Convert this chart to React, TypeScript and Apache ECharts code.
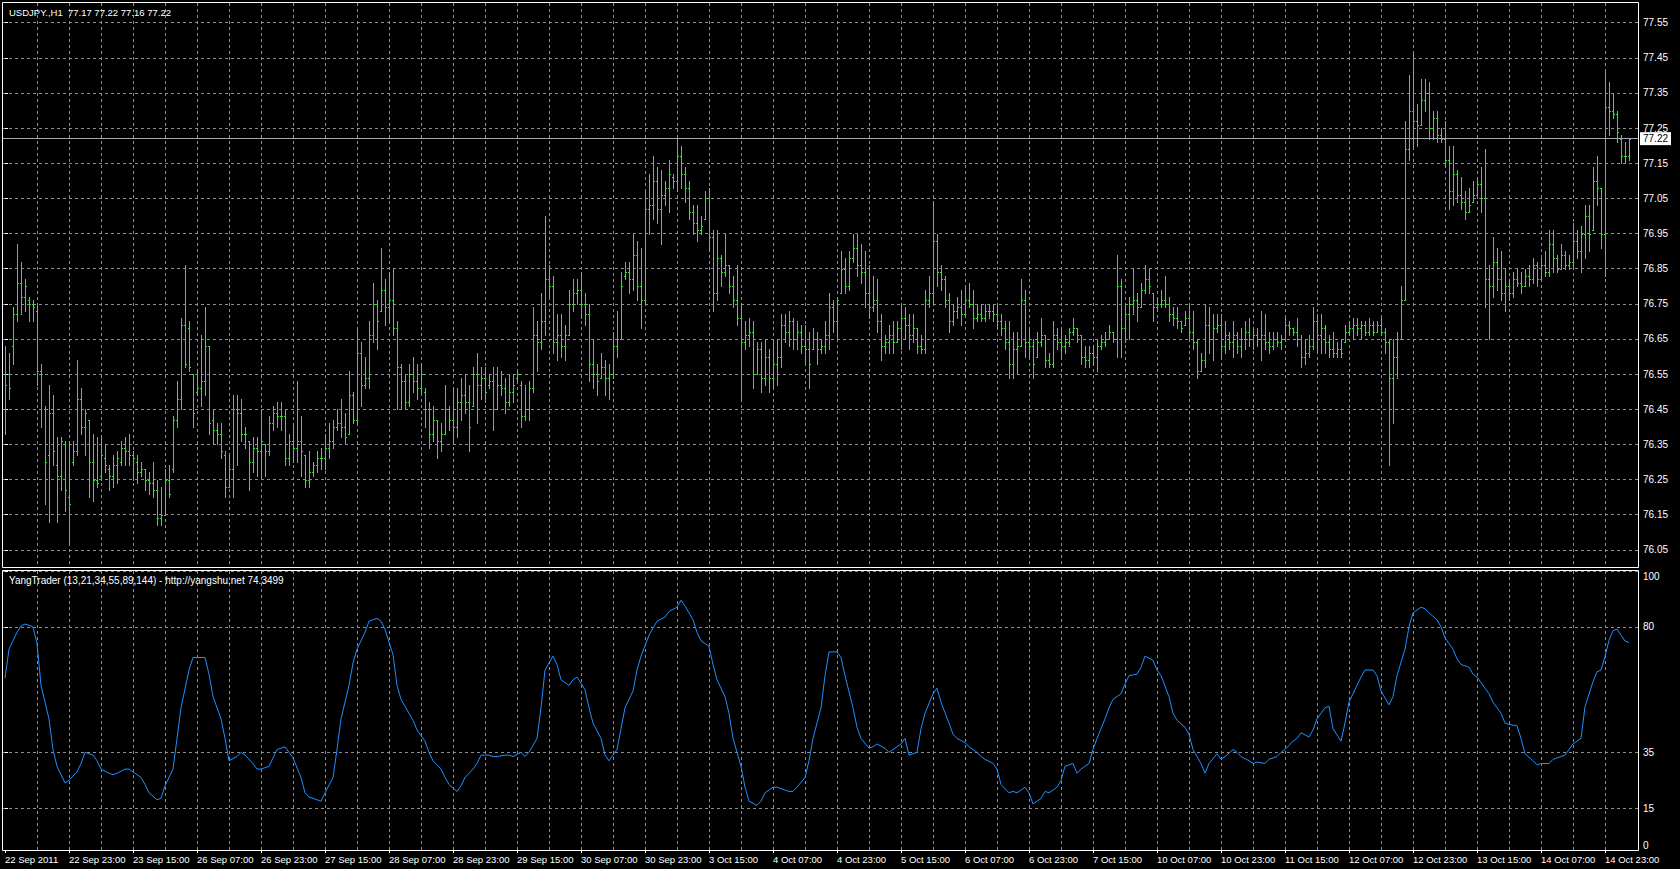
import { useEffect, useRef } from 'react';
import * as echarts from 'echarts';

// ---------- text ----------
const SYMBOL_TITLE = 'USDJPY.,H1  77.17 77.22 77.16 77.22';
const INDICATOR_TITLE = 'YangTrader (13,21,34,55,89,144) - http://yangshu.net 74.3499';

// time labels shown every 16 hourly bars (bar 0, 16, 32, ...)
const TIME_LABELS = [
  '22 Sep 2011', '22 Sep 23:00', '23 Sep 15:00', '26 Sep 07:00', '26 Sep 23:00', '27 Sep 15:00',
  '28 Sep 07:00', '28 Sep 23:00', '29 Sep 15:00', '30 Sep 07:00', '30 Sep 23:00', '3 Oct 15:00',
  '4 Oct 07:00', '4 Oct 23:00', '5 Oct 15:00', '6 Oct 07:00', '6 Oct 23:00', '7 Oct 15:00',
  '10 Oct 07:00', '10 Oct 23:00', '11 Oct 15:00', '12 Oct 07:00', '12 Oct 23:00', '13 Oct 15:00',
  '14 Oct 07:00', '14 Oct 23:00',
];
const LABEL_STEP = 16;
const GRID_STEP = 8;

const PRICE_TICKS = [76.05, 76.15, 76.25, 76.35, 76.45, 76.55, 76.65, 76.75, 76.85, 76.95, 77.05, 77.15, 77.25, 77.35, 77.45, 77.55];
const IND_TICKS = [0, 15, 35, 80, 100];
const BID = 77.22;

// ---------- OHLC (hourly bars) ----------
const OPEN = [
  76.45,76.55,76.63,76.72,76.81,76.77,76.76,76.75,76.73,76.56,
  76.45,76.32,76.44,76.29,76.26,76.35,76.20,76.30,76.33,76.48,
  76.40,76.42,76.30,76.25,76.26,76.31,76.28,76.26,76.29,76.30,
  76.34,76.33,76.32,76.30,76.27,76.28,76.25,76.24,76.22,76.14,
  76.15,76.25,76.28,76.42,76.48,76.69,76.68,76.55,76.50,76.51,
  76.53,76.63,76.42,76.39,76.38,76.32,76.23,76.28,76.45,76.44,
  76.38,76.36,76.30,76.34,76.33,76.35,76.33,76.41,76.44,76.43,
  76.43,76.31,76.36,76.34,76.36,76.32,76.25,76.27,76.29,76.31,
  76.31,76.34,
  76.36,76.40,76.41,76.40,76.38,76.49,76.42,76.61,76.52,76.54,
  76.66,76.75,76.73,76.79,76.74,76.76,76.68,76.57,76.53,76.47,
  76.55,76.53,76.51,76.50,76.45,76.38,76.42,76.36,76.38,76.45,
  76.42,76.40,76.47,76.49,76.47,76.46,76.55,76.52,76.54,76.52,
  76.53,76.45,76.52,76.51,76.47,76.50,76.54,76.52,76.43,76.45,
  76.51,76.66,76.64,76.70,76.82,76.80,76.64,76.66,76.63,76.66,
  76.75,76.78,76.79,76.75,76.72,76.58,76.55,76.54,76.57,76.54,
  76.55,76.63,76.65,76.83,76.84,76.82,76.89,76.80,76.76,77.02,
  77.03,77.10,
  77.02,77.06,77.08,77.11,77.10,77.17,77.12,77.08,77.01,76.98,
  76.96,76.99,77.05,76.94,76.78,76.88,76.84,76.86,76.80,76.76,
  76.71,76.64,76.66,76.67,76.55,76.62,76.54,76.60,76.54,76.58,
  76.60,76.69,76.67,76.70,76.65,76.67,76.63,76.62,76.62,76.65,
  76.62,76.63,76.66,76.74,76.70,76.78,76.85,76.80,76.88,76.91,
  76.86,76.84,76.78,76.74,76.76,76.70,76.63,76.64,76.66,76.64,
  76.68,76.71,76.69,76.66,76.68,76.63,76.62,76.76,76.78,76.93,
  76.84,76.82,76.76,76.70,76.73,76.74,76.72,76.76,76.75,76.71,
  76.72,76.71,
  76.73,76.73,76.72,76.70,76.68,76.64,76.58,76.62,76.63,76.76,
  76.64,76.63,76.60,76.64,76.66,76.59,76.58,76.66,76.64,76.63,
  76.64,76.67,76.68,76.66,76.60,76.59,76.61,76.60,76.63,76.64,
  76.65,76.67,76.65,76.80,76.68,76.72,76.75,76.76,76.74,76.79,
  76.82,76.78,76.74,76.75,76.76,76.75,76.72,76.71,76.70,76.69,
  76.71,76.67,76.64,76.56,76.59,76.69,76.65,76.68,76.69,76.63,
  76.66,76.64,76.66,76.63,76.65,76.67,76.65,76.66,76.65,76.66,
  76.64,76.63,76.65,76.64,76.65,76.69,76.68,76.67,76.65,76.60,
  76.61,76.63,76.70,76.66,76.68,76.64,76.62,76.61,76.62,76.64,
  76.67,76.68,76.69,76.68,76.69,76.67,76.69,76.67,76.69,76.67,
  76.64,76.54,76.60,76.65,76.76,77.19,77.30,77.27,77.26,77.33,
  77.35,77.25,77.28,77.23,77.22,77.16,77.07,77.12,77.06,77.04,
  77.01,77.04,77.06,77.09,77.05,76.82,76.80,76.87,76.82,76.78,
  76.80,76.78,76.82,76.81,76.80,76.83,76.82,76.86,76.82,76.86,
  76.84,76.92,76.88,76.85,76.89,76.86,76.87,76.93,76.90,76.95,
  77.00,76.96,77.10,77.08,76.95,77.31,77.30,77.29,77.22,77.17,77.17,
];
const HIGH = [
  76.63,76.61,76.74,76.92,76.87,76.82,76.77,76.76,76.75,76.58,
  76.46,76.52,76.49,76.37,76.37,76.36,76.36,76.36,76.59,76.51,
  76.45,76.42,76.38,76.37,76.37,76.35,76.29,76.32,76.33,76.36,
  76.37,76.38,76.33,76.32,76.30,76.28,76.27,76.30,76.25,76.23,
  76.28,76.29,76.43,76.53,76.71,76.86,76.70,76.55,76.56,76.66,
  76.74,76.63,76.45,76.41,76.41,76.33,76.32,76.49,76.49,76.48,
  76.40,76.36,76.37,76.37,76.45,76.35,76.43,76.46,76.47,76.47,
  76.45,76.38,76.41,76.53,76.43,76.32,76.33,76.30,76.33,76.34,
  76.38,76.41,
  76.42,76.45,76.48,76.44,76.56,76.50,76.68,76.64,76.60,76.70,
  76.81,76.76,76.91,76.82,76.84,76.85,76.70,76.58,76.55,76.58,
  76.60,76.58,76.58,76.51,76.47,76.46,76.42,76.41,76.52,76.46,
  76.51,76.51,76.54,76.55,76.52,76.57,76.61,76.57,76.57,76.55,
  76.57,76.57,76.56,76.54,76.55,76.55,76.56,76.53,76.52,76.53,
  76.74,76.70,76.78,77.00,76.86,76.83,76.72,76.72,76.69,76.79,
  76.82,76.82,76.84,76.78,76.75,76.65,76.58,76.61,76.59,76.58,
  76.67,76.73,76.84,76.87,76.87,76.95,76.93,76.91,77.07,77.12,
  77.17,77.14,
  77.13,77.10,77.16,77.12,77.22,77.20,77.14,77.10,77.03,77.03,
  77.00,77.07,77.08,76.96,76.96,76.89,76.95,76.86,76.83,76.86,
  76.75,76.70,76.71,76.70,76.64,76.64,76.65,76.62,76.65,76.65,
  76.72,76.72,76.73,76.71,76.70,76.69,76.69,76.67,76.68,76.67,
  76.65,76.70,76.78,76.76,76.77,76.90,76.88,76.90,76.95,76.95,
  76.92,76.90,76.86,76.83,76.82,76.72,76.66,76.69,76.70,76.70,
  76.75,76.74,76.72,76.72,76.68,76.66,76.79,76.83,77.04,76.95,
  76.86,76.83,76.78,76.75,76.77,76.79,76.80,76.81,76.79,76.75,
  76.75,76.75,
  76.75,76.75,76.75,76.72,76.70,76.70,76.67,76.67,76.82,76.79,
  76.68,76.65,76.67,76.71,76.66,76.61,76.70,76.68,76.68,76.66,
  76.68,76.71,76.68,76.66,76.63,76.63,76.63,76.65,76.66,76.67,
  76.69,76.67,76.89,76.82,76.75,76.77,76.85,76.78,76.81,76.86,
  76.85,76.78,76.77,76.79,76.83,76.77,76.74,76.74,76.70,76.73,
  76.75,76.73,76.65,76.61,76.75,76.74,76.72,76.72,76.72,76.70,
  76.67,76.70,76.67,76.68,76.70,76.71,76.68,76.68,76.73,76.72,
  76.67,76.67,76.67,76.66,76.71,76.70,76.68,76.71,76.66,76.65,
  76.66,76.74,76.72,76.72,76.69,76.66,76.67,76.64,76.65,76.69,
  76.70,76.71,76.71,76.70,76.70,76.71,76.70,76.70,76.71,76.68,
  76.65,76.65,76.67,76.80,77.27,77.40,77.46,77.32,77.39,77.39,
  77.38,77.30,77.30,77.25,77.27,77.20,77.20,77.13,77.11,77.07,
  77.08,77.10,77.11,77.14,77.19,76.86,76.94,76.91,76.90,76.85,
  76.82,76.84,76.85,76.84,76.85,76.86,76.88,76.87,76.88,76.90,
  76.96,76.96,76.89,76.92,76.90,76.89,76.98,76.96,76.97,77.03,
  77.03,77.14,77.17,77.08,77.41,77.38,77.35,77.30,77.23,77.21,77.22,
];
const LOW = [
  76.38,76.48,76.58,76.70,76.72,76.73,76.70,76.70,76.52,76.40,
  76.18,76.13,76.29,76.13,76.22,76.16,76.07,76.29,76.32,76.38,
  76.32,76.20,76.19,76.23,76.25,76.27,76.22,76.23,76.24,76.29,
  76.29,76.29,76.25,76.24,76.26,76.22,76.21,76.20,76.12,76.12,
  76.15,76.20,76.27,76.40,76.45,76.57,76.56,76.40,76.49,76.46,
  76.49,76.38,76.35,76.35,76.31,76.20,76.23,76.20,76.29,76.36,
  76.34,76.22,76.27,76.26,76.26,76.26,76.32,76.39,76.40,76.39,
  76.29,76.29,76.30,76.30,76.26,76.23,76.23,76.26,76.27,76.28,
  76.28,76.31,
  76.34,76.39,76.37,76.35,76.38,76.41,76.41,76.46,76.51,76.51,
  76.64,76.62,76.73,76.69,76.70,76.66,76.45,76.45,76.45,76.46,
  76.50,76.48,76.50,76.40,76.34,76.36,76.31,76.33,76.38,76.39,
  76.36,76.37,76.42,76.44,76.33,76.46,76.41,76.48,76.47,76.51,
  76.39,76.45,76.49,76.44,76.46,76.47,76.53,76.40,76.42,76.42,
  76.50,76.56,76.62,76.66,76.77,76.61,76.59,76.60,76.59,76.66,
  76.73,76.75,76.71,76.69,76.53,76.51,76.49,76.54,76.49,76.48,
  76.54,76.60,76.65,76.82,76.78,76.79,76.76,76.68,76.75,76.95,
  76.99,76.98,
  76.92,77.03,77.01,77.08,77.07,77.08,77.04,76.99,76.95,76.93,
  76.95,76.99,76.90,76.73,76.76,76.80,76.83,76.78,76.74,76.69,
  76.48,76.62,76.63,76.51,76.55,76.50,76.52,76.50,76.51,76.52,
  76.57,76.64,76.63,76.62,76.62,76.61,76.58,76.51,76.62,76.58,
  76.61,76.61,76.62,76.67,76.65,76.78,76.78,76.79,76.87,76.83,
  76.81,76.74,76.71,76.73,76.67,76.59,76.61,76.61,76.61,76.64,
  76.62,76.65,76.62,76.64,76.61,76.61,76.61,76.74,76.75,76.80,
  76.79,76.74,76.67,76.69,76.71,76.69,76.72,76.74,76.68,76.70,
  76.70,76.70,
  76.71,76.70,76.68,76.66,76.62,76.54,76.54,76.55,76.63,76.60,
  76.60,76.54,76.60,76.63,76.57,76.57,76.57,76.62,76.60,76.61,
  76.63,76.66,76.64,76.58,76.57,76.57,76.58,76.56,76.62,76.63,
  76.65,76.64,76.60,76.60,76.64,76.65,76.72,76.70,76.74,76.78,
  76.78,76.70,76.73,76.74,76.74,76.70,76.69,76.68,76.67,76.69,
  76.65,76.62,76.54,76.56,76.57,76.61,76.59,76.67,76.60,76.61,
  76.62,76.60,76.61,76.60,76.62,76.63,76.62,76.63,76.59,76.62,
  76.61,76.62,76.63,76.62,76.65,76.66,76.66,76.63,76.57,76.58,
  76.60,76.62,76.61,76.61,76.61,76.60,76.60,76.60,76.60,76.64,
  76.66,76.65,76.66,76.65,76.66,76.66,76.66,76.67,76.66,76.61,
  76.29,76.41,76.54,76.65,76.76,77.16,77.20,77.20,77.26,77.30,
  77.22,77.22,77.21,77.21,77.14,77.02,77.03,77.04,77.02,76.99,
  77.01,77.04,77.05,77.01,76.74,76.65,76.77,76.79,76.76,76.73,
  76.76,76.77,76.80,76.78,76.80,76.80,76.81,76.80,76.82,76.83,
  76.83,76.84,76.84,76.85,76.85,76.85,76.85,76.88,76.84,76.88,
  76.90,76.96,77.03,76.91,76.83,77.23,77.28,77.21,77.15,77.15,77.16,
];
const CLOSE = [
  76.52,76.51,76.72,76.81,76.77,76.80,76.75,76.74,76.56,76.55,
  76.30,76.44,76.33,76.26,76.36,76.22,76.18,76.33,76.48,76.40,
  76.44,76.30,76.25,76.24,76.32,76.29,76.26,76.29,76.31,76.34,
  76.33,76.32,76.31,76.27,76.28,76.25,76.24,76.22,76.14,76.15,
  76.25,76.21,76.42,76.48,76.69,76.58,76.57,76.44,76.51,76.53,
  76.63,76.41,76.39,76.38,76.33,76.23,76.28,76.45,76.44,76.38,
  76.38,76.30,76.34,76.33,76.36,76.33,76.41,76.44,76.43,76.43,
  76.31,76.36,76.34,76.36,76.33,76.25,76.27,76.29,76.31,76.31,
  76.34,76.36,
  76.40,76.41,76.40,76.37,76.49,76.42,76.61,76.52,76.54,76.66,
  76.75,76.70,76.79,76.74,76.76,76.68,76.57,76.53,76.47,76.55,
  76.53,76.51,76.55,76.45,76.38,76.42,76.36,76.38,76.45,76.42,
  76.40,76.47,76.49,76.47,76.40,76.55,76.52,76.54,76.50,76.53,
  76.45,76.52,76.51,76.47,76.50,76.52,76.55,76.43,76.45,76.51,
  76.66,76.64,76.70,76.82,76.80,76.64,76.66,76.63,76.66,76.75,
  76.78,76.79,76.75,76.72,76.58,76.55,76.53,76.57,76.54,76.55,
  76.63,76.65,76.80,76.84,76.82,76.89,76.80,76.76,77.02,77.03,
  77.10,77.02,
  77.06,77.08,77.12,77.10,77.17,77.12,77.08,77.01,76.98,76.96,
  76.97,77.05,76.94,76.78,76.88,76.84,76.86,76.80,76.76,76.71,
  76.64,76.66,76.67,76.55,76.62,76.54,76.60,76.54,76.58,76.60,
  76.69,76.67,76.70,76.65,76.67,76.63,76.62,76.58,76.65,76.62,
  76.63,76.66,76.74,76.70,76.76,76.85,76.80,76.88,76.91,76.86,
  76.84,76.78,76.74,76.76,76.70,76.63,76.64,76.66,76.64,76.68,
  76.71,76.69,76.66,76.68,76.63,76.62,76.76,76.78,76.93,76.84,
  76.82,76.76,76.70,76.73,76.74,76.72,76.76,76.75,76.71,76.72,
  76.71,76.73,
  76.73,76.72,76.70,76.68,76.64,76.58,76.62,76.63,76.76,76.64,
  76.63,76.58,76.64,76.66,76.59,76.58,76.66,76.64,76.63,76.64,
  76.67,76.68,76.66,76.60,76.59,76.61,76.60,76.63,76.64,76.65,
  76.67,76.65,76.80,76.68,76.72,76.75,76.76,76.74,76.79,76.82,
  76.80,76.74,76.75,76.76,76.75,76.72,76.71,76.70,76.68,76.71,
  76.67,76.64,76.56,76.59,76.69,76.65,76.68,76.69,76.63,76.66,
  76.64,76.66,76.63,76.65,76.67,76.65,76.66,76.65,76.66,76.64,
  76.63,76.65,76.64,76.65,76.69,76.68,76.67,76.65,76.60,76.61,
  76.63,76.70,76.66,76.68,76.64,76.62,76.61,76.62,76.61,76.67,
  76.68,76.69,76.68,76.69,76.67,76.69,76.67,76.69,76.67,76.64,
  76.54,76.60,76.65,76.76,77.19,77.30,77.27,77.26,77.33,77.35,
  77.25,77.28,77.23,77.22,77.16,77.07,77.12,77.06,77.04,77.01,
  77.03,77.06,77.09,77.05,76.82,76.80,76.87,76.82,76.78,76.80,
  76.78,76.82,76.81,76.80,76.83,76.82,76.86,76.82,76.86,76.84,
  76.92,76.88,76.85,76.89,76.86,76.87,76.93,76.90,76.95,77.00,
  76.95,77.10,77.08,76.95,77.31,77.30,77.29,77.24,77.17,77.17,77.22,
];

// ---------- YangTrader indicator (bar index, value) ----------
const IND_BAR = [
  0,1,3,4,5,7,8,9,11,12,
  13,15,16,18,19,20,22,23,24,26,
  27,28,30,31,32,34,35,36,38,39,
  40,42,43,44,46,47,48,50,51,52,
  54,55,56,58,59,60,62,63,64,66,
  67,68,70,71,72,74,75,76,78,79,
  80,82,83,84,86,87,88,90,91,93,
  94,95,97,98,99,101,102,103,105,106,
  107,109,110,111,113,114,115,117,118,119,
  121,122,123,125,126,127,129,130,131,133,
  134,135,137,138,139,141,142,143,145,146,
  147,149,150,151,153,154,155,157,158,159,
  161,162,163,165,166,168,169,170,172,173,
  174,176,177,178,180,181,182,184,185,186,
  188,189,190,192,193,194,196,197,198,200,
  201,202,204,205,206,208,209,210,212,213,
  214,216,217,218,220,221,222,224,225,226,
  228,229,230,232,233,234,236,237,238,240,
  241,243,244,245,247,248,249,251,252,253,
  255,256,257,259,260,261,263,264,265,267,
  268,269,271,272,273,275,276,277,279,280,
  281,283,284,285,287,288,289,291,292,293,
  295,296,297,299,300,301,303,304,305,307,
  308,309,311,312,313,315,316,318,319,320,
  322,323,324,326,327,328,330,331,332,334,
  335,336,338,339,340,342,343,344,346,347,
  348,350,351,352,354,355,356,358,359,360,
  362,363,364,366,367,368,370,371,372,374,
  375,376,378,379,380,382,383,384,386,387,
  388,390,391,392,394,395,397,398,399,400,
  401,402,403,404,405,406,
];
const IND_VALUE = [
  61.5,72,78,80.3,81,80,74,59,47,36,
  30,24,25,28,31,35,34,32,29,27.5,
  27,27.5,29,29,28,26,23.5,20.5,18,18.5,
  23,29,40,51,64.5,69,69,69,63,55,
  47,40,32,33.5,35,34,31,29,29,30,
  33,36,37,35,33,26,20.5,19,18,17.5,
  20.5,26,36,47,59,67,72,78,82,83,
  82,79,70,59,54,49,46.5,43,39,35,
  32,29,26,23.5,21,23,26,29,31,34,
  34,33.5,33.5,34,34,33.5,35,33.5,35,40,
  51,64.5,69.5,66.5,61,59,61,62,57.5,51,
  45.5,40,34,32,36,43.5,51,57,64.5,69.5,
  77,79.5,82,83.5,85.5,87,89.5,87.5,82.5,78,
  75,73,66.5,61,55,49,40,30,22.5,17.5,
  16,17.5,20.5,22.5,22.5,22,21,21,22.5,26,
  32,40,51,62.5,71,71,69,62.5,51,44,
  40,36.5,37,38,36.5,35,36,38,40,34,
  35,43.5,49,56,58,53,45.5,41.5,40,38.5,
  37,35,33.5,32.5,31,29,23.5,20.5,21,20.5,
  22.5,20.5,16.5,18.5,21,20.5,22.5,25,30,31,
  27.5,29,31,36,40,47,51,54,56,59.5,
  62.5,63,65.5,69.5,68,64.5,62.5,55,49,46.5,
  44,41.5,36,31,27.5,31,34.5,32.5,33.5,36,
  35,33.5,32,31,31.5,31,32.5,33.5,35,36,
  39,40,42,40.5,43,47,51,51.5,43.5,39,
  45.5,53,59,62,64.5,64.5,62.5,57,52,55,
  62.5,72,80,85,87,86.5,85,82.5,80,76,
  72,68.5,66.5,65.5,63,62,58,56,53,49,
  45.5,45,44.5,40,34.5,32,30.5,31,31,32.5,
  33,34,36,38,40,51.4,60.3,63.9,64.5,69.3,
  75.2,78.6,79.2,77,74.9,74.35,
];

// ---------- styling ----------
const FONT = '"Liberation Sans", Arial, sans-serif';
const TEXT = '#ffffff';
const GRID_COLOR = '#8e8e8e';
const BAR_COLOR = '#3fdc32';
const LINE_COLOR = '#1e90ff';
const X_MIN = -0.5;
const X_MAX = 408.25;

const GRID_BARS: number[] = [];
for (let b = GRID_STEP; b <= 400; b += GRID_STEP) GRID_BARS.push(b);
const LABEL_BARS = TIME_LABELS.map((_, k) => k * LABEL_STEP);

const BAR_DATA = OPEN.map((o, i) => [i, o, HIGH[i], LOW[i], CLOSE[i]]);
const IND_DATA = IND_BAR.map((b, k) => [b, IND_VALUE[k]]);

const dashed = { color: GRID_COLOR, type: [3, 3], width: 1 };

function renderBar(params: any, api: any) {
  const i = api.value(0);
  const pO = api.coord([i, api.value(1)]);
  const pH = api.coord([i, api.value(2)]);
  const pL = api.coord([i, api.value(3)]);
  const pC = api.coord([i, api.value(4)]);
  const x = Math.round(pH[0]);
  const yH = Math.round(pH[1]);
  const yL = Math.round(pL[1]);
  const yO = Math.round(pO[1]);
  const yC = Math.round(pC[1]);
  const style = { fill: BAR_COLOR, stroke: null };
  return {
    type: 'group',
    children: [
      { type: 'rect', shape: { x, y: yH, width: 1, height: Math.max(1, yL - yH + 1) }, style },
      { type: 'rect', shape: { x: x - 1, y: yO, width: 1, height: 1 }, style },
      { type: 'rect', shape: { x: x + 1, y: yC, width: 1, height: 1 }, style },
    ],
  };
}

function buildOption(): any {
  return {
    animation: false,
    backgroundColor: '#000000',
    grid: [
      { left: 3, right: 42, top: 3, height: 564, outerBoundsMode: 'none' },
      { left: 3, right: 42, top: 571, height: 279, outerBoundsMode: 'none' },
    ],
    xAxis: [
      {
        gridIndex: 0, type: 'value', min: X_MIN, max: X_MAX, position: 'bottom',
        axisLine: { show: false },
        axisTick: { show: false, customValues: GRID_BARS },
        axisLabel: { show: false },
        splitLine: { show: true, lineStyle: dashed },
      },
      {
        gridIndex: 1, type: 'value', min: X_MIN, max: X_MAX, position: 'top',
        axisLine: { show: false },
        axisTick: { show: false, customValues: GRID_BARS },
        axisLabel: { show: false },
        splitLine: { show: true, lineStyle: dashed },
      },
      {
        gridIndex: 1, type: 'value', min: X_MIN, max: X_MAX, position: 'bottom',
        axisLine: { show: false },
        axisTick: { show: true, customValues: LABEL_BARS, length: 3, lineStyle: { color: TEXT } },
        axisLabel: {
          show: true, customValues: LABEL_BARS,
          formatter: (v: number) => TIME_LABELS[Math.round(v / LABEL_STEP)] ?? '',
          align: 'left', color: TEXT, fontFamily: FONT, fontSize: 9.5, margin: 4,
        },
        splitLine: { show: false },
      },
    ],
    yAxis: [
      {
        gridIndex: 0, type: 'value', position: 'right', min: 76.001, max: 77.606,
        axisLine: { show: false },
        axisTick: { show: true, customValues: PRICE_TICKS, length: 3, lineStyle: { color: TEXT } },
        axisLabel: {
          show: true, customValues: PRICE_TICKS, formatter: (v: number) => v.toFixed(2),
          color: TEXT, fontFamily: FONT, fontSize: 10, margin: 5,
        },
        splitLine: { show: true, lineStyle: dashed },
      },
      {
        gridIndex: 1, type: 'value', position: 'right', min: 0, max: 100,
        axisLine: { show: false },
        axisTick: { show: true, customValues: IND_TICKS, length: 3, lineStyle: { color: TEXT } },
        axisLabel: {
          show: true, customValues: IND_TICKS, formatter: (v: number) => String(v),
          color: TEXT, fontFamily: FONT, fontSize: 10, margin: 5,
          verticalAlignMaxLabel: 'top', verticalAlignMinLabel: 'bottom',
        },
        splitLine: { show: true, lineStyle: dashed },
      },
    ],
    series: [
      {
        type: 'custom', name: 'USDJPY', xAxisIndex: 0, yAxisIndex: 0,
        data: BAR_DATA, renderItem: renderBar,
        encode: { x: 0, y: [1, 2, 3, 4] },
        silent: true, z: 3,
        markLine: {
          silent: true, symbol: 'none', animation: false,
          data: [{ yAxis: BID }],
          lineStyle: { color: '#a3a9b0', type: 'solid', width: 1 },
          label: {
            show: true, position: 'end', formatter: BID.toFixed(2), distance: 2,
            backgroundColor: '#ffffff', color: '#000000', padding: [2, 3, 1, 3],
            fontFamily: FONT, fontSize: 10,
          },
          emphasis: { disabled: true },
        },
      },
      {
        type: 'line', name: 'YangTrader', xAxisIndex: 1, yAxisIndex: 1,
        data: IND_DATA, showSymbol: false, symbol: 'none', silent: true,
        lineStyle: { color: LINE_COLOR, width: 1 }, itemStyle: { color: LINE_COLOR },
        z: 3,
      },
    ],
    graphic: [
      {
        type: 'rect', z: 100, silent: true,
        shape: { x: 2.5, y: 2.5, width: 1636, height: 565 },
        style: { fill: 'none', stroke: '#ffffff', lineWidth: 1 },
      },
      {
        type: 'rect', z: 100, silent: true,
        shape: { x: 2.5, y: 570.5, width: 1636, height: 280 },
        style: { fill: 'none', stroke: '#ffffff', lineWidth: 1 },
      },
      {
        type: 'text', z: 101, silent: true, x: 9, y: 12,
        style: { text: SYMBOL_TITLE, fill: TEXT, fontFamily: FONT, fontSize: 9.5, verticalAlign: 'middle' },
      },
      {
        type: 'text', z: 101, silent: true, x: 9, y: 580,
        style: { text: INDICATOR_TITLE, fill: TEXT, fontFamily: FONT, fontSize: 10, verticalAlign: 'middle' },
      },
    ],
  };
}

export default function App() {
  const ref = useRef<HTMLDivElement>(null);
  useEffect(() => {
    if (!ref.current) return;
    const chart = echarts.init(ref.current, null, { renderer: 'svg' });
    chart.setOption(buildOption());
    return () => chart.dispose();
  }, []);
  return (
    <div
      ref={ref}
      style={{ position: 'fixed', left: 0, top: 0, width: 1680, height: 869, background: '#000' }}
    />
  );
}
